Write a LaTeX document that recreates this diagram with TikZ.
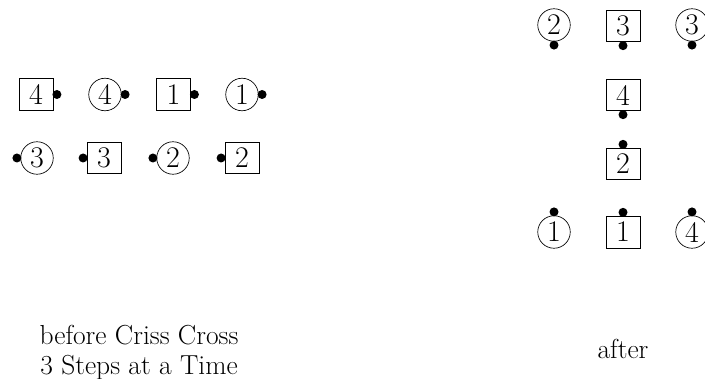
\documentclass[tikz,border=0pt]{standalone}
\usetikzlibrary{calc}

\begin{document}
\begin{tikzpicture}[
  x=0.6pt, y=-0.6pt,
  num/.style={inner sep=0pt, font=\fontsize{18}{20}\selectfont},
  sq/.style={num, draw, minimum width=20.5pt, minimum height=19pt},
  rnd/.style={num, draw, circle, minimum size=19.5pt},
  caption/.style={align=center, font=\fontsize{16.5}{18}\selectfont},
]
\useasboundingbox (0,0) rectangle (705,379);

% before: top row, dots on the right
\node[sq]  (b4) at (36,94.5)  {4};
\node[rnd] (c4) at (105,94.5) {4};
\node[sq]  (b1) at (173.5,94.5) {1};
\node[rnd] (c1) at (242,94.5) {1};
\foreach \n in {b4,c4,b1,c1}
  \fill ($(\n.east)+(3.5,0)$) circle[radius=4.5];

% before: bottom row, dots on the left
\node[rnd] (c3) at (37,158)  {3};
\node[sq]  (b3) at (104,158) {3};
\node[rnd] (c2) at (173,158) {2};
\node[sq]  (b2) at (242,158) {2};
\foreach \n in {c3,b3,c2,b2}
  \fill ($(\n.west)+(-3.5,0)$) circle[radius=4.5];

% after
\node[rnd] (a2) at (554,25)  {2};
\node[sq]  (a3) at (623,26)  {3};
\node[rnd] (e3) at (692,25)  {3};
\node[sq]  (a4) at (623,95)  {4};
\foreach \n in {a2,a3,e3,a4}
  \fill ($(\n.south)+(0,3.5)$) circle[radius=4.5];
\node[sq]  (e2) at (623,164) {2};
\node[rnd] (a1) at (554,232) {1};
\node[sq]  (e1) at (623,232) {1};
\node[rnd] (e4) at (692,232) {4};
\foreach \n in {e2,a1,e1,e4}
  \fill ($(\n.north)+(0,-3.5)$) circle[radius=4.5];

% captions
\node[caption] (before) at (139,353) {before Criss Cross\\3 Steps at a Time};
\node[caption, anchor=base] (after) at (623,358) {after};
\end{tikzpicture}
\end{document}
